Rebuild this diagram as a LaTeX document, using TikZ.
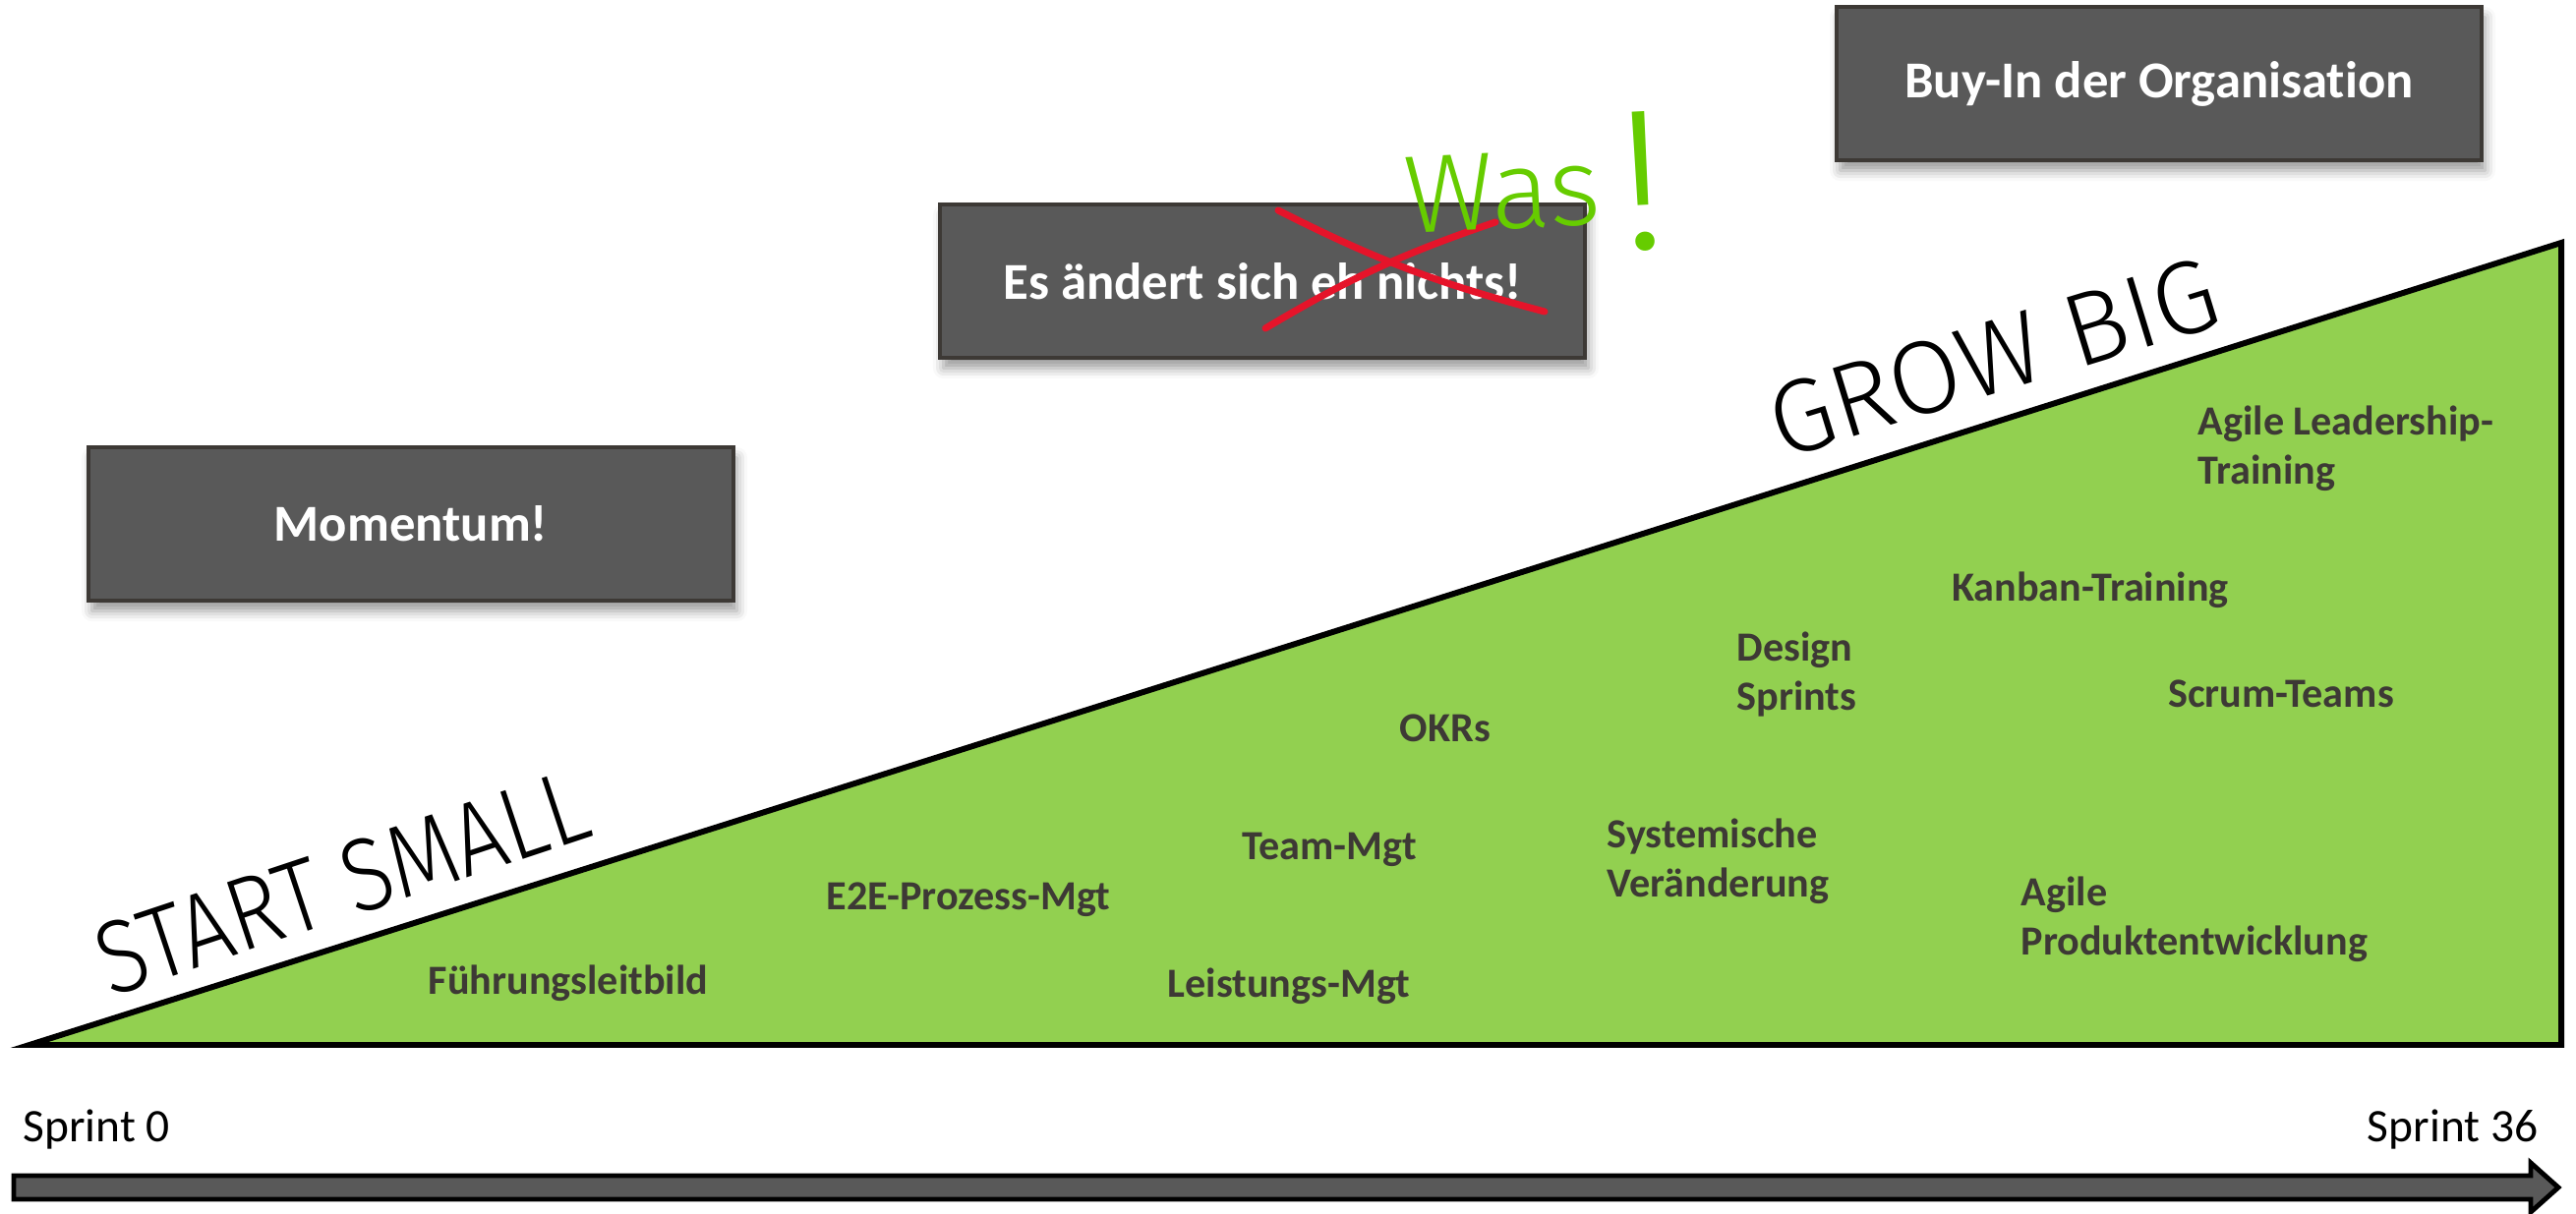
\documentclass[tikz,border=0pt]{standalone}
\usepackage{fontspec}
\setmainfont{Carlito}[Ligatures=NoCommon]
\newfontfamily\hand{Fira Sans Light}
\usetikzlibrary{shadows.blur}
\definecolor{boxgray}{HTML}{595959}
\definecolor{boxedge}{HTML}{3D3935}
\definecolor{labelgray}{HTML}{3D3935}
\definecolor{rampgreen}{HTML}{92D050}
\definecolor{wasgreen}{HTML}{66CC00}
\definecolor{strikered}{HTML}{E5142A}
\tikzset{
  statement/.style={draw=boxedge, line width=1pt, fill=boxgray,
    minimum width=65.6mm, minimum height=15.6mm, text=white,
    font=\fontsize{15}{18}\selectfont\bfseries,
    blur shadow={shadow xshift=1pt, shadow yshift=-3pt,
      shadow blur radius=3pt, shadow opacity=40}},
  topic/.style={text=labelgray, inner sep=0pt, align=left,
    font=\fontsize{12}{14.4}\selectfont\bfseries},
  motto/.style={inner sep=0pt, anchor=base},
  sprint/.style={inner sep=0pt, font=\fontsize{13.5}{16}\selectfont}
}
\begin{document}
\begin{tikzpicture}[x=0.1mm, y=-0.1mm]
  \useasboundingbox (0,0) rectangle (2620,1235);

  \coordinate (tip) at (30,1063);
  \coordinate (top) at (2605,247);
  \coordinate (foot) at (2605,1063);
  \draw[fill=rampgreen, line width=1.7pt] (tip) -- (top) -- (foot) -- cycle;

  \draw[fill=boxgray, line width=1.4pt]
    (14,1196) -- (2574,1196) -- (2574,1183) -- (2602,1208)
    -- (2574,1233) -- (2574,1220) -- (14,1220) -- cycle;
  \node[sprint, anchor=base west] (s0) at (23,1162) {Sprint 0};
  \node[sprint, anchor=base east] (s36) at (2582,1162) {Sprint 36};

  \node[statement] (momentum) at (418,533) {Momentum!};
  \node[statement] (change) at (1284,286) {Es ändert sich eh nichts!};
  \node[statement] (buyin) at (2196,85) {Buy-In der Organisation};

  \draw[strikered, line width=2pt, line cap=round]
    (1300,214) to[bend right=6] (1571,317);
  \draw[strikered, line width=2pt, line cap=round]
    (1287,334) to[bend left=6] (1521,226);
  \node[text=wasgreen, inner sep=0pt, anchor=base west, rotate=3,
    font=\hand\fontsize{32}{36}\selectfont] (was) at (1430,238)
    {Was\,\raisebox{-8pt}{\fontsize{58}{60}\selectfont !}};

  \node[motto, rotate=18.4, yscale=1.15, font=\hand\fontsize{26}{30}\selectfont]
    (small) at (359,932) {START SMALL};
  \node[motto, rotate=17, font=\hand\fontsize{30}{36}\selectfont]
    (big) at (2038,398) {GROW BIG};

  \node[topic, anchor=base] (leitbild) at (578,1012) {Führungsleitbild};
  \node[topic, anchor=base] (e2e) at (985,926) {E2E-Prozess-Mgt};
  \node[topic, anchor=base] (team) at (1352,875) {Team-Mgt};
  \node[topic, anchor=base] (leistung) at (1311,1015) {Leistungs-Mgt};
  \node[topic, anchor=base] (okr) at (1470,755) {OKRs};
  \node[topic, anchor=base west] (design) at (1766,723) {Design\\Sprints};
  \node[topic, anchor=base west] (system) at (1634,913) {Systemische\\Veränderung};
  \node[topic, anchor=base] (kanban) at (2126,612) {Kanban-Training};
  \node[topic, anchor=base] (scrum) at (2320,720) {Scrum-Teams};
  \node[topic, anchor=base west] (produkt) at (2055,972) {Agile\\Produktentwicklung};
  \node[topic, anchor=base west] (leader) at (2235,493) {Agile Leadership-\\Training};
\end{tikzpicture}
\end{document}
